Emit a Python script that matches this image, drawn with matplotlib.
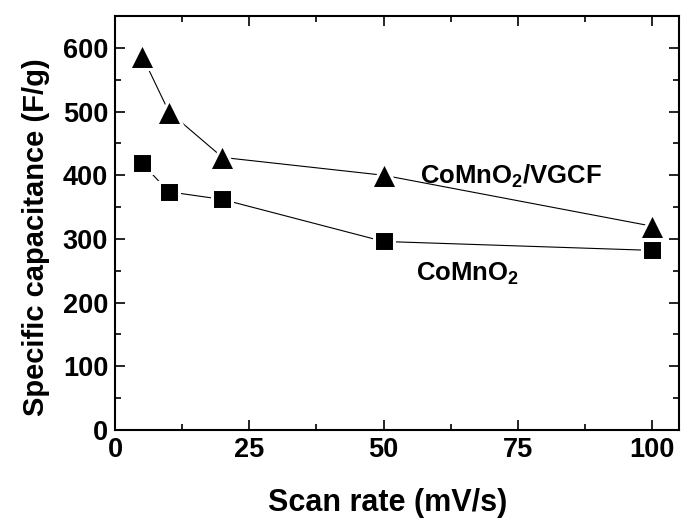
import matplotlib
matplotlib.use("Agg")
import matplotlib.pyplot as plt
from matplotlib.ticker import MultipleLocator

# scan rate (mV/s) vs specific capacitance (F/g)
scan_rate = [5, 10, 20, 50, 100]
cap_vgcf = [588, 500, 428, 400, 320]
cap_comno2 = [419, 374, 362, 296, 282]

plt.rcParams['font.family'] = ['Liberation Sans', 'DejaVu Sans']
plt.rcParams['font.weight'] = 'bold'
plt.rcParams['mathtext.fontset'] = 'custom'
plt.rcParams['mathtext.bf'] = 'Liberation Sans:bold'
plt.rcParams['mathtext.rm'] = 'Liberation Sans:bold'

fig = plt.figure(figsize=(6.81, 5.18), dpi=100)
ax = fig.add_axes([0.169, 0.170, 0.828, 0.799])

ax.plot(scan_rate, cap_vgcf, color='black', lw=0.8, marker='^', ms=19,
        mfc='black', mec='white', mew=2.2)
ax.plot(scan_rate, cap_comno2, color='black', lw=0.8, marker='s', ms=14,
        mfc='black', mec='white', mew=2.2)

ax.text(56.7, 387, r'CoMnO$_\mathbf{2}$/VGCF', fontsize=18.5, fontweight='bold',
        va='baseline')
ax.text(56.0, 235, r'CoMnO$_\mathbf{2}$', fontsize=18.5, fontweight='bold',
        va='baseline')

ax.set_xlim(0, 105)
ax.set_ylim(0, 650)
ax.xaxis.set_major_locator(MultipleLocator(25))
ax.xaxis.set_minor_locator(MultipleLocator(12.5))
ax.yaxis.set_major_locator(MultipleLocator(100))
ax.yaxis.set_minor_locator(MultipleLocator(50))
ax.tick_params(which='both', direction='in', top=True, right=True, width=1.2)
ax.tick_params(which='major', length=7, labelsize=19.5, pad=5)
ax.tick_params(which='minor', length=4.5)
for lab in ax.get_xticklabels() + ax.get_yticklabels():
    lab.set_fontweight('bold')
for s in ax.spines.values():
    s.set_linewidth(1.5)

ax.set_xlabel('Scan rate (mV/s)', fontsize=22, fontweight='bold')
ax.set_ylabel('Specific capacitance (F/g)', fontsize=21, fontweight='bold')
ax.xaxis.set_label_coords(0.484, -0.140)
ax.yaxis.set_label_coords(-0.115, 0.466)

fig.savefig('out.png', dpi=100)
